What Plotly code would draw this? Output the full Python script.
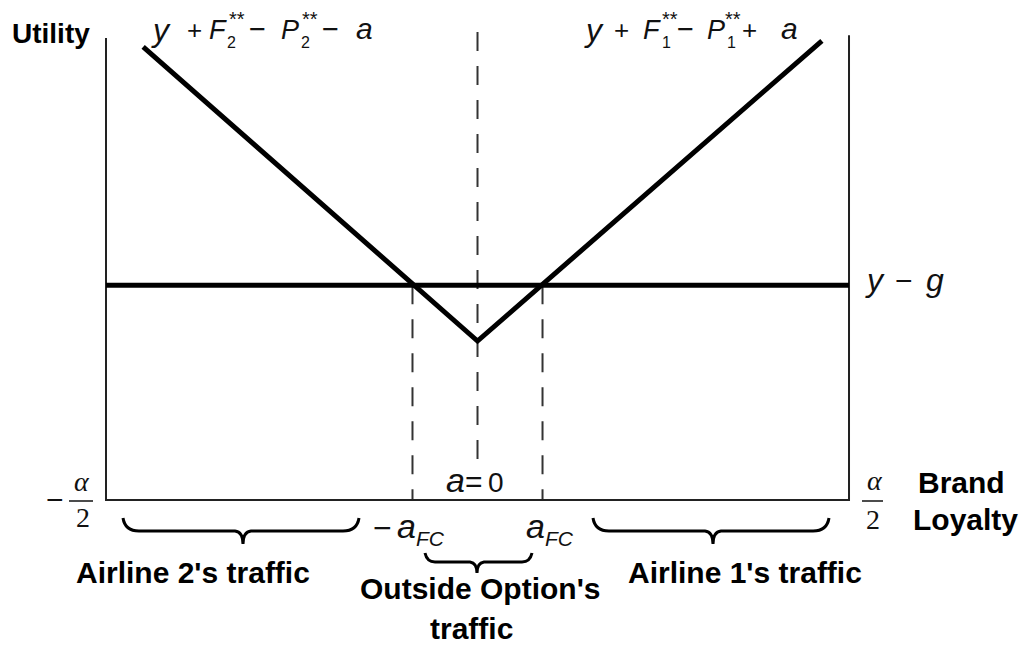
import plotly.graph_objects as go

# page body has an 8px margin: the figure is drawn 8px in from the corner
OFF = 8
W, H = 1028 - OFF, 645 - OFF

# ---- data (brand loyalty in units of alpha/2, utility normalised) ----
loyalty_v = [-0.900, 0.0, 0.927]          # airline utility kink line
utility_v = [0.981, 0.344, 0.994]
loyalty_span = [-1.0, 1.0]                 # -alpha/2 .. alpha/2
outside_utility = [0.465, 0.465]           # y - g
a_fc = 0.175
frame_x = [-1.0, -1.0, 1.0, 1.0]
frame_y = [1.0, 0.0, 0.0, 1.006]
center_top = 1.013

X_RANGE = [-1.2638, 1.4818]
Y_RANGE = [-0.3139, 1.0649]

SANS = "Liberation Sans"
SERIF = "Liberation Serif"
INK = "#111111"

fig = go.Figure()

dash = "19px,15px"
fig.add_trace(go.Scatter(x=[0, 0], y=[center_top, 0], mode="lines",
                         line=dict(color="#333", width=2, dash=dash), hoverinfo="skip"))
fig.add_trace(go.Scatter(x=[-a_fc, -a_fc], y=[outside_utility[0], 0], mode="lines",
                         line=dict(color="#333", width=2, dash=dash), hoverinfo="skip"))
fig.add_trace(go.Scatter(x=[a_fc, a_fc], y=[outside_utility[0], 0], mode="lines",
                         line=dict(color="#333", width=2, dash=dash), hoverinfo="skip"))
fig.add_trace(go.Scatter(x=frame_x, y=frame_y, mode="lines",
                         line=dict(color="#222", width=2), hoverinfo="skip"))
fig.add_trace(go.Scatter(x=loyalty_span, y=outside_utility, mode="lines",
                         line=dict(color="black", width=5), hoverinfo="skip"))
fig.add_trace(go.Scatter(x=loyalty_v, y=utility_v, mode="lines",
                         line=dict(color="black", width=5), hoverinfo="skip"))


def P(px, py):
    return (px - OFF) / W, 1 - (py - OFF) / H


def path(cmds):
    out = []
    for c, pts in cmds:
        s = c + " " + " ".join(f"{P(x, y)[0]:.5f},{P(x, y)[1]:.5f}" for x, y in pts)
        out.append(s)
    return " ".join(out)


def brace(x0, x1, xt, ytop, yh, ytip, r=16, hw=8):
    return path([
        ("M", [(x0, ytop)]),
        ("Q", [(x0 + 2, yh), (x0 + r, yh)]),
        ("L", [(xt - hw, yh)]),
        ("Q", [(xt, yh + 1), (xt, ytip)]),
        ("Q", [(xt, yh + 1), (xt + hw, yh)]),
        ("L", [(x1 - r, yh)]),
        ("Q", [(x1 - 2, yh), (x1, ytop)]),
    ])


shapes = []
for b in [brace(123, 359, 243, 518, 531, 544),
          brace(593, 829, 713, 518, 531, 544),
          brace(425, 532, 477, 553, 562, 573, r=10, hw=7)]:
    shapes.append(dict(type="path", path=b, xref="paper", yref="paper",
                       line=dict(color="black", width=3)))
# fraction bars
for x0, x1 in [(69, 93), (862, 883)]:
    a, b_ = P(x0, 501), P(x1, 501)
    shapes.append(dict(type="line", x0=a[0], x1=b_[0], y0=a[1], y1=b_[1],
                       xref="paper", yref="paper", line=dict(color=INK, width=1.5)))

anns = []


def txt(s, px, py, fs, fam=SANS, xanchor="left", color=INK, bg=None):
    x, y = P(px, py)
    d = dict(x=x, y=y, xref="paper", yref="paper", text=s, showarrow=False,
             xanchor=xanchor, yanchor="middle",
             font=dict(size=fs, family=fam, color=color), borderpad=0)
    if bg:
        d["bgcolor"] = bg
    anns.append(d)


def base(s, px, B, fs, **kw):
    txt(s, px, B - 0.3465 * fs, fs, **kw)


# bold labels
txt("<b>Utility</b>", 51, 33, 28, xanchor="center", color="black")
txt("<b>Brand</b>", 961, 482, 30, xanchor="center", color="black")
txt("<b>Loyalty</b>", 965, 519, 30, xanchor="center", color="black")
txt("<b>Airline 2's traffic</b>", 192.5, 572, 30, xanchor="center", color="black")
txt("<b>Outside Option's</b>", 480, 588, 30, xanchor="center", color="black")
txt("<b>traffic</b>", 471, 628, 30, xanchor="center", color="black")
txt("<b>Airline 1's traffic</b>", 744.5, 572, 30, xanchor="center", color="black")

# top-left formula
B = 39
base("<i>y</i>", 150, 41, 32)
base("+", 186, B, 26)
base("<i>F</i>", 208, B, 27)
base("2", 226, 48, 16)
txt("**", 228, 19, 20)
base("\u2212", 248, B, 29)
base("<i>P</i>", 280, B, 27)
base("2", 300, 48, 16)
txt("**", 301, 19, 20)
base("\u2212", 321, B, 29)
base("<i>a</i>", 355, B, 30)

# top-right formula
base("<i>y</i>", 583, 41, 32)
base("+", 613, B, 26)
base("<i>F</i>", 642, B, 27)
base("1", 661, 48, 16)
txt("**", 661, 19, 20)
base("\u2212", 676, B, 29)
base("<i>P</i>", 706, B, 27)
base("1", 726, 48, 16)
txt("**", 724, 19, 20)
base("+", 741, B, 26)
base("<i>a</i>", 780, B, 30)

# y - g
base("<i>y</i>", 864, 291, 32)
base("\u2212", 894, 291, 30)
base("<i>g</i>", 925, 291, 32)

# a = 0
base("=", 464, 492, 30, bg="white")
base("<i>a</i>", 445, 492, 34)
base("0", 487, 492, 28)

# -a_FC and a_FC
base("\u2212", 372, 539, 32)
base("<i>a</i>", 396, 538, 34)
base("<i>FC</i>", 415, 546, 21)
base("<i>a</i>", 525, 538, 34)
base("<i>FC</i>", 544, 546, 21)

# -alpha/2 and alpha/2
txt("\u2212", 54.5, 499, 30, xanchor="center")
txt("<i>\u03b1</i>", 81.5, 481, 28, fam=SERIF, xanchor="center")
txt("2", 83, 517, 28, fam=SERIF, xanchor="center")
txt("<i>\u03b1</i>", 874.5, 480, 28, fam=SERIF, xanchor="center")
txt("2", 873, 519, 28, fam=SERIF, xanchor="center")

fig.update_layout(
    width=W, height=H, margin=dict(l=0, r=0, t=0, b=0),
    paper_bgcolor="white", plot_bgcolor="white", showlegend=False,
    xaxis=dict(range=X_RANGE, visible=False, fixedrange=True),
    yaxis=dict(range=Y_RANGE, visible=False, fixedrange=True),
    shapes=shapes, annotations=anns,
)

fig.write_html("out.html", config={"displayModeBar": False})
